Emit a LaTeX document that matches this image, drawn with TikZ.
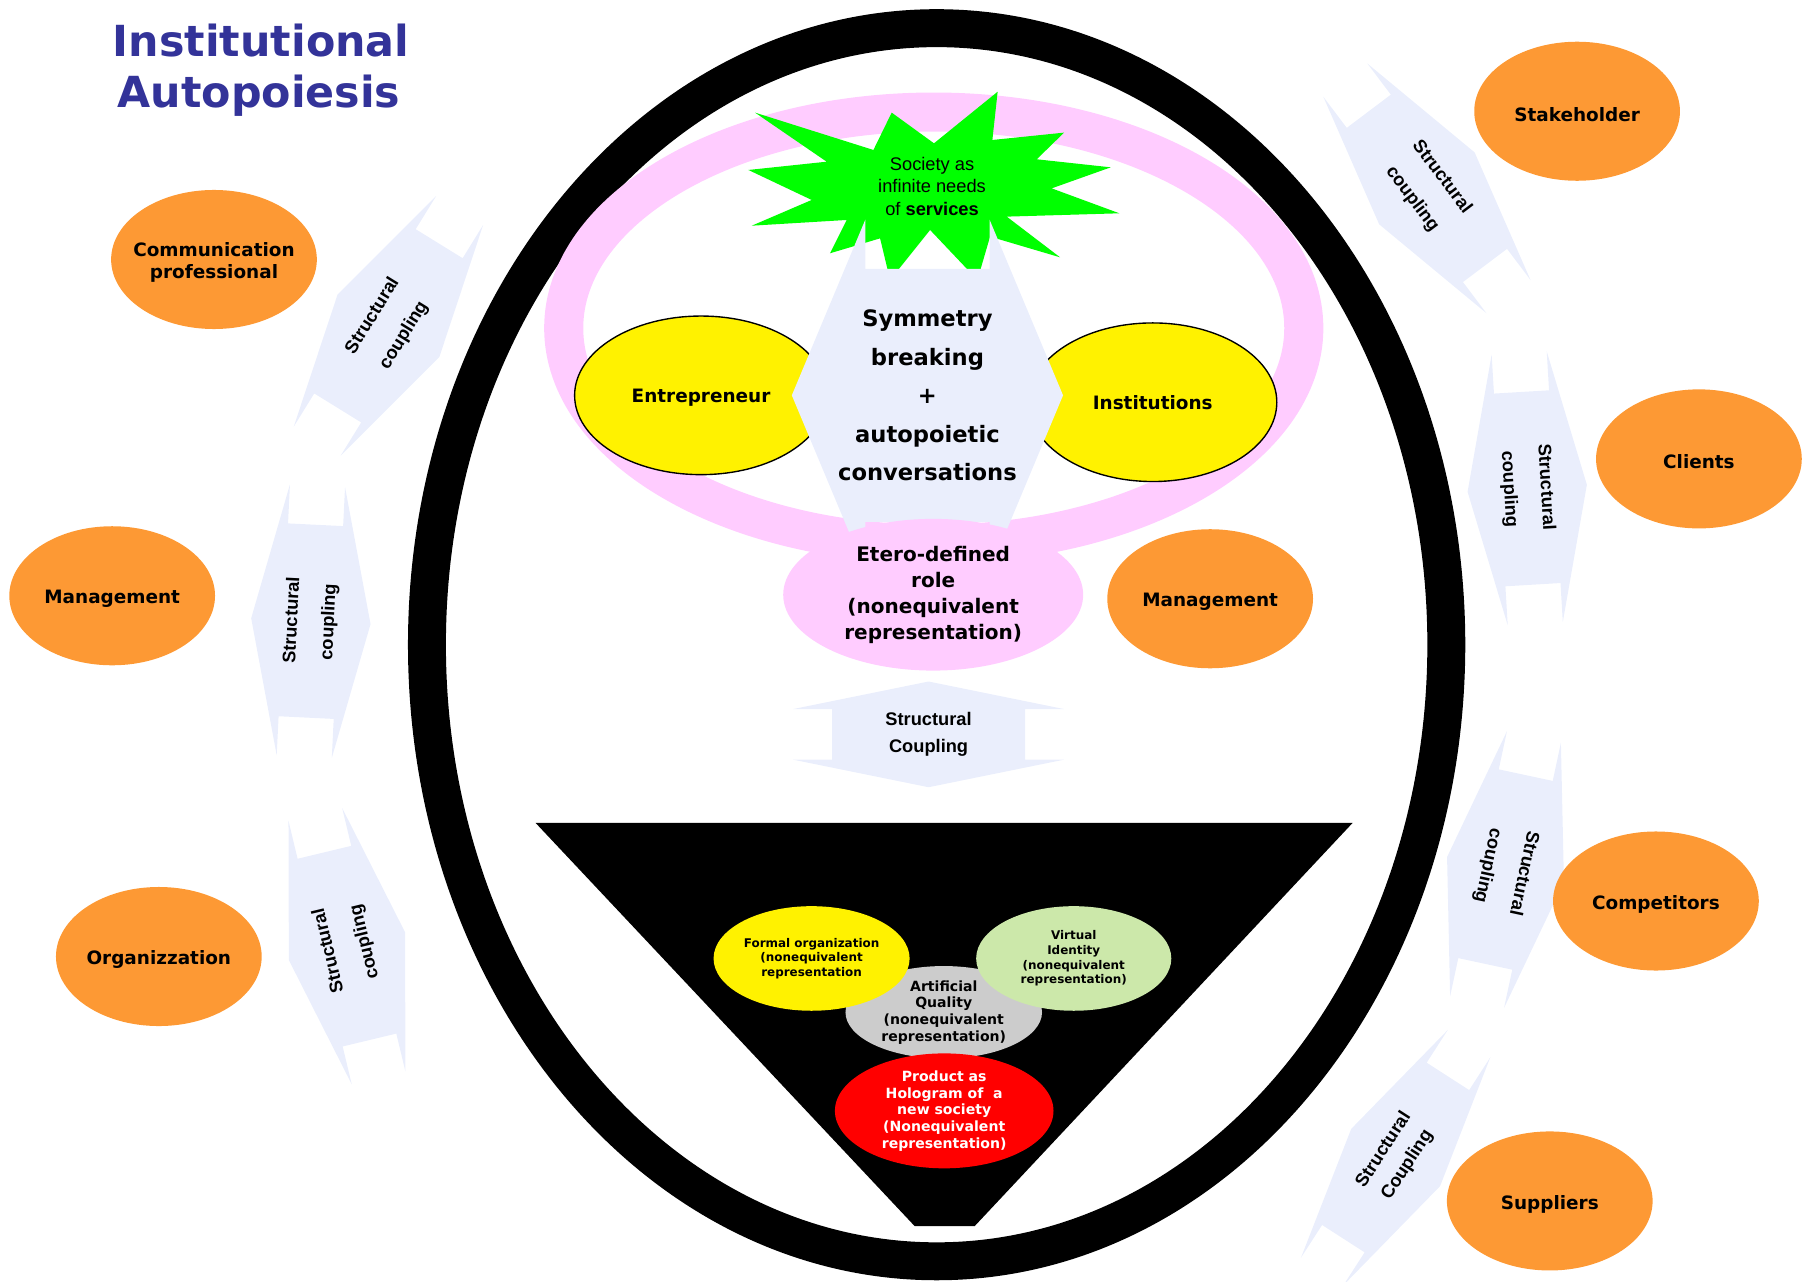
\documentclass[tikz,border=0pt]{standalone}
\usepackage{fontspec}
\setmainfont{DejaVu Sans}
\newfontfamily\arialfont{Liberation Sans}
\usetikzlibrary{shapes.geometric}

\definecolor{partyorange}{RGB}{253,153,52}
\definecolor{couplelav}{RGB}{234,238,252}
\definecolor{rolepink}{RGB}{255,204,255}
\definecolor{starlime}{RGB}{0,255,0}
\definecolor{titleblue}{RGB}{51,51,153}
\definecolor{virtgreen}{RGB}{204,232,170}
\definecolor{qualgrey}{RGB}{204,204,204}

\newcommand{\titlefont}{\fontsize{26.5}{31}\selectfont\bfseries}
\newcommand{\partyfont}{\fontsize{11.4}{13.5}\selectfont\bfseries}
\newcommand{\symfont}{\fontsize{14}{23.8}\selectfont\bfseries}
\newcommand{\rolefont}{\fontsize{12.4}{16.1}\selectfont\bfseries}
\newcommand{\starfont}{\arialfont\fontsize{11.3}{13.9}\selectfont}
\newcommand{\repfonta}{\fontsize{7.4}{9.1}\selectfont\bfseries}
\newcommand{\repfontb}{\fontsize{8.7}{10.3}\selectfont\bfseries}

\begin{document}
\begin{tikzpicture}[x=0.25mm, y=-0.25mm,
    partylabel/.style={align=center, font=\partyfont, inner sep=0pt, yshift=-0.7mm},
    actor/.style={ellipse, draw=black, line width=0.3mm, fill=yellow, minimum height=34.5mm, inner sep=0pt, text depth=0pt, font=\partyfont},
    couple/.style={fill=couplelav},
    rep/.style={ellipse, inner sep=0pt, align=center}]

  \useasboundingbox (0,0) rectangle (1568,1115);

  % system boundary and society ring
  \draw[line width=8.25mm] (815,561) ellipse [x radius=443.5, y radius=536.5];
  \draw[rolepink, line width=8.5mm] (812.5,285.5) ellipse [x radius=322, y radius=188];

  \node[actor, minimum width=55mm] (entre) at (610,344) {Entrepreneur};
  \node[actor, minimum width=54mm] (inst) at (1003,350) {Institutions};

  % society as needs
  \fill[starlime] (657.0,98.0) -- (760.0,130.5) -- (775.9,98.0) -- (812.7,124.7)
    -- (868.1,79.8) -- (863.5,121.8) -- (925.9,115.4) -- (902.1,138.6)
    -- (966.5,145.6) -- (915.1,163.9) -- (974.0,185.6) -- (876.0,188.5)
    -- (922.4,223.9) -- (861.5,205.9) -- (850.5,243.6) -- (809.3,200.1)
    -- (774.5,243.6) -- (765.8,207.4) -- (722.2,220.4) -- (736.7,191.4)
    -- (654.1,196.4) -- (706.3,174.0) -- (651.2,147.9) -- (719.3,140.7) -- cycle;
  \node[font=\starfont, align=center, inner sep=0pt] (society) at (811,162) {Society as\\infinite needs\\of \textbf{services}};

  % symmetry breaking
  \fill[couple] (689,344) -- (753,191) -- (753,234) -- (861,234) -- (861,191) -- (925,344)
    -- (861,497) -- (861,454) -- (753,454) -- (753,497) -- cycle;
  \node[font=\symfont, align=center, inner sep=0pt] (symm) at (807,344) {Symmetry\\breaking\\+\\autopoietic\\conversations};

  \node[rep, fill=rolepink, minimum width=65.25mm, minimum height=33mm, font=\rolefont] (role) at (812,517.5) {Etero-defined\\role\\(nonequivalent\\representation)};

  % structural couplings
  \foreach \nm/\cx/\cy/\ang/\hl/\hb/\lsp/\txt in {
      cpcomm/338/283.5/58.3/52/24/22.8/{Structural\\coupling},
      cpmgmt/270.5/540.5/87.2/52/24/22.8/{Structural\\coupling},
      cporg/301.9/823.3/103.5/52/24/22.8/{Structural\\coupling},
      cpstake/1241.6/163.9/-53/52/24/22.8/{Structural\\coupling},
      cpclient/1328.9/424.9/-86.6/52/24/22.8/{Structural\\coupling},
      cpcomp/1310/756.6/-102.1/52/24/22.8/{Structural\\coupling},
      cpsupp/1214.4/1007.2/57.2/46/22/17.4/{Structural\\Coupling},
      cpcore/808/639/0/46/22/16.4/{Structural\\Coupling}}
  {
    \begin{scope}[shift={(\cx,\cy)}, rotate=\ang]
      \fill[couple] (0,-\hl) -- (118,-\hb) -- (84,-\hb) -- (84,\hb) -- (118,\hb) -- (0,\hl)
        -- (-118,\hb) -- (-84,\hb) -- (-84,-\hb) -- (-118,-\hb) -- cycle;
    \end{scope}
    \node[rotate=\ang, align=center, inner sep=0pt, font={\arialfont\bfseries\fontsize{11.3}{\lsp}\selectfont}] (\nm) at (\cx,\cy) {\txt};
  }

  % partners
  \foreach \nm/\px/\py/\txt in {
      comm/186.2/225.8/{Communication\\professional},
      stake/1372.3/96.8/Stakeholder,
      mgmtl/97.6/518.4/Management,
      client/1478.3/399.3/Clients,
      mgmtr/1053/521/Management,
      orga/138.2/832.3/Organizzation,
      comp/1440.9/784/Competitors,
      supp/1348.5/1045/Suppliers}
  {
    \fill[partyorange] (\px,\py) ellipse [x radius=89.5, y radius=60.5];
    \node[partylabel] (\nm) at (\px,\py) {\txt};
  }

  % product funnel
  \fill (466,716) -- (1177,716) -- (848,1067) -- (796,1067) -- cycle;
  \node[rep, fill=qualgrey, minimum width=42.75mm, minimum height=20.1mm, font=\repfontb] (qual) at (821.2,880.8) {Artificial\\Quality\\(nonequivalent\\representation)};
  \node[rep, fill=yellow, minimum width=42.65mm, minimum height=22.75mm, font=\repfonta] (formal) at (706.2,834) {Formal organization\\(nonequivalent\\representation};
  \node[rep, fill=virtgreen, minimum width=42.45mm, minimum height=22.75mm, font=\repfonta] (virtual) at (934.3,834) {Virtual\\Identity\\(nonequivalent\\representation)};
  \node[rep, fill=red, text=white, minimum width=47.55mm, minimum height=25mm, font=\repfontb] (product) at (821.6,966.6) {Product as\\Hologram of~ a\\new society\\(Nonequivalent\\representation)};

  % title
  \node[anchor=base west, inner sep=0pt, font=\titlefont, text=titleblue] (title1) at (98,49.5) {Institutional};
  \node[anchor=base west, inner sep=0pt, font=\titlefont, text=titleblue] (title2) at (102,93.4) {Autopoiesis};
\end{tikzpicture}
\end{document}
